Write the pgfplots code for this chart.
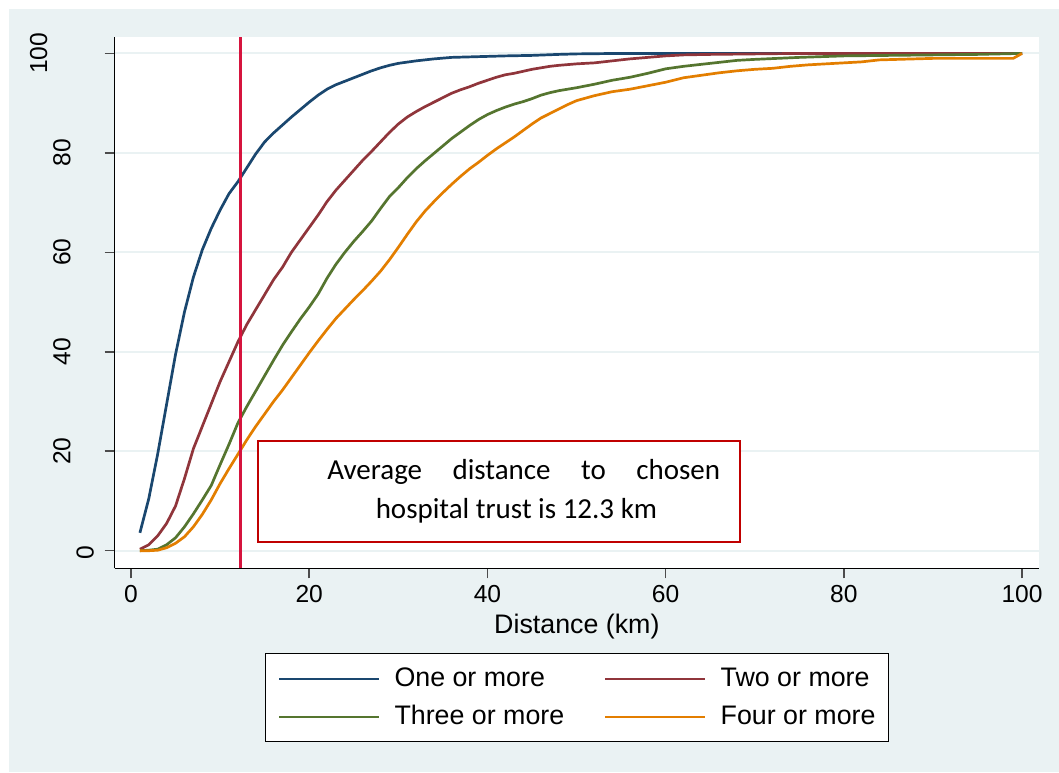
\documentclass[border=0pt]{standalone}
\usepackage{graphicx}
\usepackage{fontspec}
\setmainfont{Liberation Sans}
\newfontfamily\calibri{Carlito}
\usepackage{pgfplots}
\pgfplotsset{compat=1.18}

\definecolor{bgc}{RGB}{234,242,243}
\definecolor{gridc}{RGB}{234,242,243}
\definecolor{navy}{RGB}{26,71,111}
\definecolor{maroon}{RGB}{144,53,59}
\definecolor{forest}{RGB}{85,117,47}
\definecolor{dkorange}{RGB}{227,126,0}
\definecolor{vline}{RGB}{214,20,62}
\definecolor{boxred}{RGB}{192,0,0}

\begin{document}
\begin{tikzpicture}
  % page is 1059x772 px at 0.5pt per px
  \fill[white] (0,0) rectangle (529.5pt,386pt);
  \fill[bgc] (4.5pt,0) rectangle (529.5pt,381.5pt);
  \useasboundingbox (0,0) rectangle (529.5pt,386pt);
  \begin{axis}[
      at={(57.35pt,101.85pt)}, anchor=south west,
      scale only axis,
      width=462.15pt, height=265.65pt,
      xmin=-1.83, xmax=101.9,
      ymin=-3.54, ymax=103.3,
      axis background/.style={fill=white},
      axis x line*=bottom, axis y line*=left,
      axis line style={black, line width=0.75pt},
      xtick={0,20,...,100}, ytick={0,20,...,100},
      tick align=outside, major tick length=5pt,
      tick style={black!70, line width=0.75pt},
      ymajorgrids, grid style={gridc, line width=1pt},
      /pgf/number format/assume math mode=true,
      tick label style={font=\fontsize{12.3}{14}\selectfont},
      yticklabel={\rotatebox{90}{\pgfmathprintnumber{\tick}}\scalebox{0.85}[1]{\phantom{\pgfmathprintnumber{\tick}\pgfmathprintnumber{\tick}}}},
      yticklabel style={xshift=9.8pt},
      xlabel={Distance (km)},
      xlabel style={font=\fontsize{13.4}{16}\selectfont, at={(axis description cs:0.5,0)}, anchor=base, yshift=-32.35pt},
      legend columns=2,
      legend cell align=left,
      legend image code/.code={\draw[#1, line width=1pt] (0pt,0pt) -- (50pt,0pt); \path (57pt,0pt);},
      legend style={at={(0.5,-0.160)}, anchor=north, draw=black, line width=0.5pt, fill=white,
        font=\fontsize{13.4}{16}\selectfont,
        inner xsep=6.5pt, inner ysep=7pt, row sep=8pt,
        nodes={inner xsep=0pt, inner ysep=0pt},
        /tikz/every even column/.append style={column sep=20pt}},
      every axis plot/.append style={line width=1.35pt, line join=round},
    ]
    \addplot[navy] coordinates {
      (1,3.6)(2,10.5)(3,19.5)(4,29.5)(5,39.5)(6,48)(7,55)(8,60.5)(9,64.8)(10,68.5)
      (11,71.8)(12,74.2)(13,77)(14,79.8)(15,82.2)(16,84)(17,85.6)(18,87.2)(19,88.7)(20,90.2)
      (21,91.6)(22,92.8)(23,93.7)(24,94.4)(25,95.1)(26,95.8)(27,96.5)(28,97.1)(29,97.6)(30,98)
      (32,98.5)(34,98.9)(36,99.2)(38,99.3)(40,99.4)(42,99.5)(45,99.6)(48,99.8)(50,99.9)
      (55,100)(100,100)
    };
    \addlegendentry{One or more}
    \addplot[maroon] coordinates {
      (1,0.3)(2,1.2)(3,3)(4,5.5)(5,9)(6,14.5)(7,20.5)(8,25)(9,29.5)(10,34)
      (11,38)(12,42)(13,45.5)(14,48.5)(15,51.5)(16,54.5)(17,57)(18,60)(19,62.5)(20,65)
      (21,67.5)(22,70.2)(23,72.5)(24,74.5)(25,76.5)(26,78.5)(27,80.3)(28,82.2)(29,84.1)(30,85.8)
      (31,87.2)(32,88.3)(33,89.3)(34,90.2)(35,91.1)(36,92)(37,92.7)(38,93.3)(39,94)(40,94.6)
      (41,95.2)(42,95.7)(43,96)(44,96.4)(45,96.8)(46,97.1)(47,97.4)(48,97.6)(50,97.9)
      (52,98.1)(54,98.5)(56,98.9)(58,99.2)(60,99.5)(62,99.7)(65,99.8)(70,99.9)(75,100)(100,100)
    };
    \addlegendentry{Two or more}
    \addplot[forest] coordinates {
      (1,0)(2,0.1)(3,0.3)(4,1.2)(5,2.6)(6,4.8)(7,7.4)(8,10.2)(9,13.1)(10,17.3)
      (11,21.4)(12,25.7)(13,29)(14,32.1)(15,35.2)(16,38.3)(17,41.3)(18,44)(19,46.6)(20,49)
      (21,51.6)(22,54.8)(23,57.6)(24,60)(25,62.2)(26,64.2)(27,66.3)(28,68.8)(29,71.2)(30,73)
      (31,75)(32,76.8)(33,78.4)(34,79.9)(35,81.4)(36,82.9)(37,84.2)(38,85.5)(39,86.7)(40,87.7)
      (41,88.5)(42,89.2)(43,89.8)(44,90.3)(45,90.9)(46,91.6)(47,92.1)(48,92.5)(50,93.1)
      (52,93.8)(54,94.6)(56,95.2)(58,96)(60,96.9)(62,97.4)(64,97.8)(66,98.2)(68,98.6)(70,98.8)
      (75,99.2)(80,99.5)(85,99.6)(90,99.7)(95,99.8)(100,100)
    };
    \addlegendentry{Three or more}
    \addplot[dkorange] coordinates {
      (1,0)(2,0)(3,0.1)(4,0.6)(5,1.5)(6,2.8)(7,4.8)(8,7.3)(9,10.2)(10,13.5)
      (11,16.5)(12,19.4)(13,22.3)(14,25)(15,27.5)(16,30)(17,32.3)(18,34.8)(19,37.3)(20,39.8)
      (21,42.2)(22,44.5)(23,46.7)(24,48.6)(25,50.5)(26,52.3)(27,54.2)(28,56.2)(29,58.5)(30,61)
      (31,63.6)(32,66.1)(33,68.3)(34,70.2)(35,72)(36,73.7)(37,75.3)(38,76.8)(39,78.1)(40,79.5)
      (41,80.8)(42,82)(43,83.2)(44,84.5)(45,85.8)(46,87)(47,87.9)(48,88.8)(49,89.7)(50,90.5)
      (52,91.5)(54,92.3)(56,92.8)(58,93.5)(60,94.2)(62,95.1)(64,95.6)(66,96.1)(68,96.5)(70,96.8)
      (72,97)(74,97.4)(76,97.7)(78,97.9)(80,98.1)(82,98.3)(84,98.7)(86,98.8)(88,98.9)(90,99)
      (95,99)(99,99)(100,100)
    };
    \addlegendentry{Four or more}
    % average distance marker
    \addplot[vline, line width=1.4pt, forget plot] coordinates {(12.3,-3.54)(12.3,103.3)};
    \draw[boxred, line width=1pt, fill=white] (axis cs:14.29,1.69) rectangle (axis cs:68.35,22.1);
    \node[anchor=base, font=\calibri\fontsize{14.5}{17}\selectfont, inner sep=0pt]
      at (axis cs:44.07,14.4) {\makebox[196.35pt][s]{Average distance to chosen}};
    \node[anchor=base, font=\calibri\fontsize{14.5}{17}\selectfont, inner sep=0pt]
      at (axis cs:43.26,6.5) {hospital trust is 12.3 km};
  \end{axis}
\end{tikzpicture}
\end{document}
